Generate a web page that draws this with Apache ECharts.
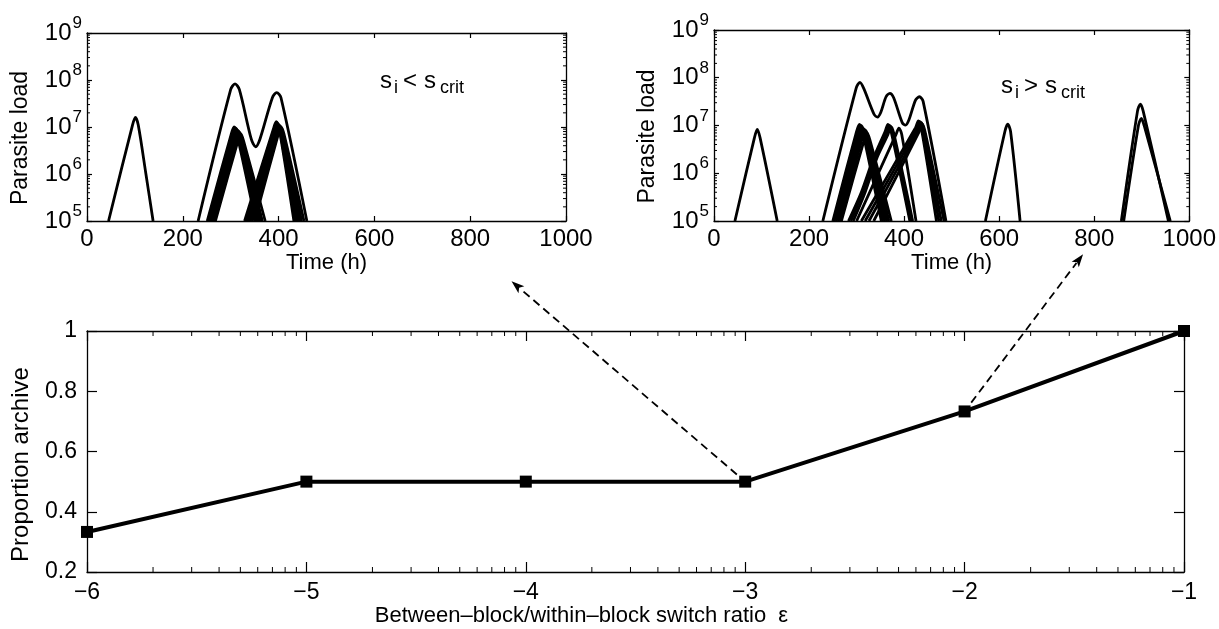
<!DOCTYPE html>
<html><head><meta charset="utf-8">
<script src="https://cdn.jsdelivr.net/npm/echarts@6/dist/echarts.min.js"></script>
<style>html,body{margin:0;padding:0;background:#fff}#c{width:1219px;height:629px}</style>
</head><body><div id="c"></div>
<script>
const FONT = 'Liberation Sans';

// ---------- Top-left panel (s_i < s_crit): [time (h), parasite load] ----------
const tlSpike = [[45,1e5],[95,1.1e7],[101,1.6e7],[107,1.1e7],[123,1e6],[138,1e5]];
const tlTotal = [[232,1e5],[300,6.3e7],[309,8.3e7],[318,6.3e7],[343,5.5e6],[352,3.8e6],[361,5.5e6],[387,4.2e7],[396,5.4e7],[405,4.2e7],[459,1e5]];
const tlBundleA = [
  [[251,1e5],[301,7e6],[307,1.0e7],[313,7e6],[352,1e5]],
  [[254,1e5],[303,6.8e6],[309,9.7e6],[315,6.8e6],[355,1e5]],
  [[256,1e5],[305,6.5e6],[311,9.3e6],[317,6.5e6],[358,1e5]],
  [[259,1e5],[307,6.2e6],[313,8.8e6],[319,6.2e6],[361,1e5]],
  [[262,1e5],[310,5.8e6],[316,8.3e6],[322,5.8e6],[364,1e5]],
  [[265,1e5],[312,5.4e6],[318,7.8e6],[324,5.4e6],[366,1e5]],
  [[268,1e5],[315,5e6],[321,7.2e6],[327,5e6],[372,1e5]]
];
const tlBundleB = [
  [[329,1e5],[389,9e6],[395,1.3e7],[401,9.5e6],[432,1e5]],
  [[332,1e5],[390,8.7e6],[396,1.25e7],[402,9.2e6],[435,1e5]],
  [[335,1e5],[391,8.4e6],[397,1.2e7],[403,8.8e6],[438,1e5]],
  [[338,1e5],[393,8e6],[399,1.15e7],[405,8.5e6],[441,1e5]],
  [[341,1e5],[395,7.6e6],[401,1.1e7],[407,8e6],[444,1e5]],
  [[345,1e5],[397,7.2e6],[403,1.04e7],[409,7.6e6],[448,1e5]],
  [[350,1e5],[399,6.8e6],[405,9.8e6],[411,7.2e6],[453,1e5]]
];

// ---------- Top-right panel (s_i > s_crit) ----------
const trSpike1 = [[44,1e5],[85,5.5e6],[91,8.3e6],[97,5.5e6],[133,1e5]];
const trTotal = [[229,1e5],[299,6e7],[307,8e7],[315,6e7],[337,1.7e7],[344,1.5e7],[351,1.9e7],[362,4e7],[370,4.7e7],[378,3.8e7],[396,1.15e7],[403,1.02e7],[410,1.3e7],[424,3.4e7],[432,4e7],[440,3.2e7],[488,1e5]];
const trBundleC = [
  [[250,1e5],[300,7.5e6],[306,1.05e7],[312,8e6],[352,1e5]],
  [[253,1e5],[303,7e6],[309,1e7],[315,7.5e6],[356,1e5]],
  [[257,1e5],[306,6.5e6],[312,9e6],[318,7e6],[360,1e5]],
  [[261,1e5],[309,6e6],[315,8.5e6],[321,6.5e6],[364,1e5]],
  [[265,1e5],[312,5.5e6],[318,8e6],[324,6e6],[368,1e5]],
  [[268,1e5],[316,5e6],[322,7e6],[328,5e6],[373,1e5]]
];
const trBundleD = [
  [[283,1e5],[310,4e5],[335,2e6],[360,7.5e6],[366,1.05e7],[372,8e6],[412,1e5]],
  [[288,1e5],[313,4e5],[338,2e6],[363,7e6],[369,1e7],[375,7.5e6],[415,1e5]],
  [[293,1e5],[318,4e5],[342,2e6],[366,6.5e6],[372,9.5e6],[378,7e6],[418,1e5]],
  [[300,1e5],[383,6.5e6],[389,8.8e6],[395,6.5e6],[425,1e5]]
];
const trBundleE = [
  [[310,1e5],[424,9e6],[430,1.25e7],[436,9e6],[468,1e5]],
  [[318,1e5],[427,8.5e6],[433,1.2e7],[439,8.5e6],[473,1e5]],
  [[326,1e5],[430,8e6],[436,1.15e7],[442,8e6],[478,1e5]],
  [[336,1e5],[432,7.5e6],[438,1.08e7],[444,7.5e6],[484,1e5]]
];
const trSpike2 = [[571,1e5],[612,7.5e6],[618,1.07e7],[624,7.5e6],[644,1e5]];
const trTwin = [
  [[857,1e5],[891,2e7],[897,2.8e7],[903,2e7],[956,1e5]],
  [[862,1e5],[893,1e7],[899,1.4e7],[905,1e7],[960,1e5]]
];

// ---------- Bottom panel ----------
const epsExponent = [-6, -5, -4, -3, -2, -1];
const proportionArchive = [0.333, 0.5, 0.5, 0.5, 0.733, 1.0];
// dashed arrows: from data point to annotation tip (bottom-panel data units)
const arrowFrom = [[-3, 0.5], [-2, 0.733]];
const arrowTo = [[-4.065, 1.165], [-1.46, 1.255]];

const timeMin = 0, timeMax = 1000, timeStep = 200;
const loadMin = 1e5, loadMax = 1e9;
const epsMin = -6, epsMax = -1;
const propMin = 0.2, propMax = 1, propStep = 0.2;

// minor tick values
const loadMinor = [];
for (let n = 5; n < 9; n++) for (let k = 2; k <= 9; k++) loadMinor.push([timeMin, k * Math.pow(10, n)]);
const epsMinor = [];
for (let n = -6; n < -1; n++) for (let k = 2; k <= 9; k++) epsMinor.push([n + Math.log10(k), propMin]);

const chart = echarts.init(document.getElementById('c'), null, {renderer: 'canvas'});

const black = '#000';
function lineSeries(xi, data, width) {
  return {type: 'line', xAxisIndex: xi, yAxisIndex: xi, data: data, showSymbol: false,
    smooth: 0.3, lineStyle: {color: black, width: width || 2.8}, itemStyle: {color: black},
    silent: true, clip: true, z: 3};
}
function tickSeries(xi, data, axis, len) {
  return {type: 'custom', xAxisIndex: xi, yAxisIndex: xi, data: data, silent: true, z: 5,
    renderItem: function (params, api) {
      const cs = params.coordSys;
      const p = api.coord([api.value(0), api.value(1)]);
      const st = {stroke: black, lineWidth: 1};
      if (axis === 'y') {
        return {type: 'group', children: [
          {type: 'line', shape: {x1: cs.x, y1: p[1], x2: cs.x + len, y2: p[1]}, style: st},
          {type: 'line', shape: {x1: cs.x + cs.width, y1: p[1], x2: cs.x + cs.width - len, y2: p[1]}, style: st}]};
      }
      return {type: 'group', children: [
        {type: 'line', shape: {x1: p[0], y1: cs.y + cs.height, x2: p[0], y2: cs.y + cs.height - len}, style: st},
        {type: 'line', shape: {x1: p[0], y1: cs.y, x2: p[0], y2: cs.y + len}, style: st}]};
    }};
}

const axLine = {show: true, onZero: false, lineStyle: {color: black, width: 1.3}};
const tickStyle = {color: black, width: 1.2};
function timeAxis(gi, pos) {
  const a = {gridIndex: gi, type: 'value', min: timeMin, max: timeMax, interval: timeStep, position: pos,
    axisLine: axLine, axisTick: {show: true, inside: true, length: 5, lineStyle: tickStyle},
    splitLine: {show: false},
    axisLabel: {show: pos === 'bottom', color: black, fontFamily: FONT, fontSize: 24, margin: 6,
      formatter: v => String(v)}};
  if (pos === 'bottom') {
    a.name = 'Time (h)'; a.nameLocation = 'middle'; a.nameGap = 30;
    a.nameTextStyle = {color: black, fontFamily: FONT, fontSize: 22};
  }
  return a;
}
function loadAxis(gi, pos) {
  const a = {gridIndex: gi, type: 'log', logBase: 10, min: loadMin, max: loadMax, position: pos,
    axisLine: axLine, axisTick: {show: true, inside: true, length: 5, lineStyle: tickStyle},
    splitLine: {show: false}, minorTick: {show: false},
    axisLabel: {show: pos === 'left', margin: 5, color: black,
      formatter: function (v) { return '{b|10}{e|' + Math.round(Math.log10(v)) + '}'; },
      rich: {
        b: {fontFamily: FONT, fontSize: 24, color: black, verticalAlign: 'bottom', lineHeight: 24, padding: [6, 0, 0, 0]},
        e: {fontFamily: FONT, fontSize: 17, color: black, verticalAlign: 'bottom', lineHeight: 17, padding: [0, 0, 13, 1]}
      }}};
  if (pos === 'left') {
    a.name = 'Parasite load'; a.nameLocation = 'middle'; a.nameGap = 55; a.nameRotate = 90;
    a.nameTextStyle = {color: black, fontFamily: FONT, fontSize: 23, padding: [0, 22, 0, 0]};
  }
  return a;
}

const series = [];
[tlSpike, tlTotal].concat(tlBundleA, tlBundleB).forEach(d => series.push(lineSeries(0, d)));
[trSpike1, trTotal, trSpike2].concat(trBundleC, trBundleD, trBundleE, trTwin).forEach(d => series.push(lineSeries(2, d)));
series.push(tickSeries(0, loadMinor, 'y', 3));
series.push(tickSeries(2, loadMinor, 'y', 3));
series.push(tickSeries(4, epsMinor, 'x', 5));
series.push({type: 'line', xAxisIndex: 4, yAxisIndex: 4,
  data: epsExponent.map((e, i) => [e, proportionArchive[i]]),
  symbol: 'rect', symbolSize: 12, showSymbol: true,
  lineStyle: {color: black, width: 4}, itemStyle: {color: black}, silent: true, clip: false, z: 4});

const option = {
  animation: false,
  backgroundColor: '#fff',
  grid: [
    {left: 87, top: 33, width: 479, height: 188},
    {left: 714, top: 30, width: 477, height: 191},
    {left: 87, top: 331, width: 1097, height: 241}
  ],
  xAxis: [
    timeAxis(0, 'bottom'), timeAxis(0, 'top'),
    timeAxis(1, 'bottom'), timeAxis(1, 'top'),
    {gridIndex: 2, type: 'value', min: epsMin, max: epsMax, interval: 1, position: 'bottom',
      axisLine: axLine, axisTick: {show: true, inside: true, length: 10, lineStyle: tickStyle},
      splitLine: {show: false},
      axisLabel: {color: black, fontFamily: FONT, fontSize: 23, margin: 9,
        formatter: v => (v < 0 ? '\u2212' + Math.abs(v) : String(v))},
      name: 'Between\u2013block/within\u2013block switch ratio  \u03b5', nameLocation: 'middle', nameGap: 31,
      nameTextStyle: {color: black, fontFamily: FONT, fontSize: 22, padding: [0, 108, 0, 0]}},
    {gridIndex: 2, type: 'value', min: epsMin, max: epsMax, interval: 1, position: 'top',
      axisLine: axLine, axisTick: {show: true, inside: true, length: 10, lineStyle: tickStyle},
      splitLine: {show: false}, axisLabel: {show: false}}
  ],
  yAxis: [
    loadAxis(0, 'left'), loadAxis(0, 'right'),
    loadAxis(1, 'left'), loadAxis(1, 'right'),
    {gridIndex: 2, type: 'value', min: propMin, max: propMax, interval: propStep, position: 'left',
      axisLine: axLine, axisTick: {show: true, inside: true, length: 10, lineStyle: tickStyle},
      splitLine: {show: false},
      axisLabel: {color: black, fontFamily: FONT, fontSize: 23, margin: 10},
      name: 'Proportion archive', nameLocation: 'middle', nameGap: 54, nameRotate: 90,
      nameTextStyle: {color: black, fontFamily: FONT, fontSize: 24, padding: [0, 26, 0, 0]}},
    {gridIndex: 2, type: 'value', min: propMin, max: propMax, interval: propStep, position: 'right',
      axisLine: axLine, axisTick: {show: true, inside: true, length: 10, lineStyle: tickStyle},
      splitLine: {show: false}, axisLabel: {show: false}}
  ],
  series: series
};
chart.setOption(option);

// ---------- annotations ----------
function sText(x, y, parts) {
  return parts.map(p => ({type: 'text', x: x + p[1], y: y + p[2], silent: true,
    style: {text: p[0], fontFamily: FONT, fontSize: p[3], fill: black, verticalAlign: 'alphabetic'}}));
}
const graphics = [];
sText(380, 69, [['s', 0, 0, 24], ['i', 14, 10, 18], ['<', 23, 0, 24], ['s', 44, 0, 24], ['crit', 60, 10, 18]]).forEach(g => graphics.push(g));
sText(1001, 74, [['s', 0, 0, 24], ['i', 14, 10, 18], ['>', 23, 0, 24], ['s', 44, 0, 24], ['crit', 60, 10, 18]]).forEach(g => graphics.push(g));

arrowFrom.forEach((from, i) => {
  const a = chart.convertToPixel({xAxisIndex: 4, yAxisIndex: 4}, from);
  const b = chart.convertToPixel({xAxisIndex: 4, yAxisIndex: 4}, arrowTo[i]);
  const dx = b[0] - a[0], dy = b[1] - a[1];
  const L = Math.sqrt(dx * dx + dy * dy);
  const ux = dx / L, uy = dy / L;
  const sx = a[0] + ux * 11, sy = a[1] + uy * 11;
  const hl = 13, hw = 4.5;
  const bx = b[0] - ux * hl, by = b[1] - uy * hl;
  graphics.push({type: 'line', silent: true, shape: {x1: sx, y1: sy, x2: bx + ux * 2, y2: by + uy * 2},
    style: {stroke: black, lineWidth: 1.8, lineDash: [8, 5]}});
  graphics.push({type: 'polygon', silent: true,
    shape: {points: [[b[0], b[1]], [bx - uy * hw, by + ux * hw], [bx + ux * 3, by + uy * 3], [bx + uy * hw, by - ux * hw]]},
    style: {fill: black}});
});
chart.setOption({graphic: graphics});
</script>
</body></html>
